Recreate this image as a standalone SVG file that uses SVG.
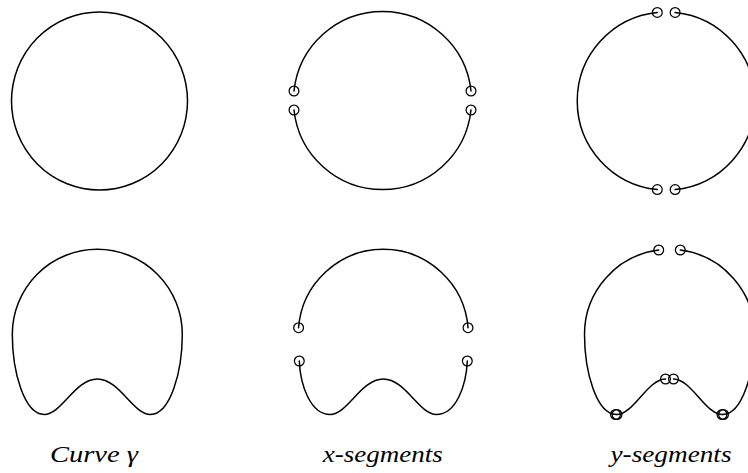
<svg xmlns="http://www.w3.org/2000/svg" width="748" height="473" viewBox="0 0 748 473">
  <style>
    .curve { fill: none; stroke: #000; stroke-width: 1.5; stroke-linecap: round; }
    .pt { fill: none; stroke: #000; stroke-width: 1.25; }
    .lbl { font-family: "Liberation Serif", "Times New Roman", serif; font-style: italic; font-size: 23px; fill: #000; }
  </style>
  <rect width="748" height="473" fill="#fff"/>

  <g id="circle-curve">
    <ellipse class="curve" cx="99.5" cy="101" rx="88" ry="89"/>
  </g>

  <g id="circle-x-segments">
    <path class="curve" d="M294,91 A89,89 0 0 1 471,91"/>
    <path class="curve" d="M294,110 A89,89 0 0 0 471,110"/>
    <circle class="pt" cx="294" cy="91" r="4.9"/>
    <circle class="pt" cx="294" cy="110" r="4.9"/>
    <circle class="pt" cx="471" cy="91" r="4.9"/>
    <circle class="pt" cx="471" cy="110" r="4.9"/>
  </g>

  <g id="circle-y-segments">
    <path class="curve" d="M657.3,12.45 A89,89 0 0 0 657.3,189.55"/>
    <path class="curve" d="M675.1,12.45 A89,89 0 0 1 675.1,189.55"/>
    <circle class="pt" cx="657.3" cy="12.45" r="4.9"/>
    <circle class="pt" cx="675.1" cy="12.45" r="4.9"/>
    <circle class="pt" cx="657.3" cy="189.55" r="4.9"/>
    <circle class="pt" cx="675.1" cy="189.55" r="4.9"/>
  </g>

  <g id="gamma-curve" transform="translate(97.3,0)">
    <path class="curve" d="M0,249.3 A85,85 0 0 0 -85,334.3 C-85,372 -73,414.5 -53,414.5 C-36,414.5 -22,379 0,379 C22,379 36,414.5 53,414.5 C73,414.5 85,372 85,334.3 A85,85 0 0 0 0,249.3 Z"/>
  </g>

  <g id="gamma-x-segments" transform="translate(383.3,0)">
    <path class="curve" d="M-84.74,327.7 A85,85 0 0 1 84.74,327.7"/>
    <path class="curve" d="M-84,361 C-83,385 -73,414.5 -53,414.5 C-36,414.5 -22,379 0,379 C22,379 36,414.5 53,414.5 C73,414.5 83,385 84,361"/>
    <circle class="pt" cx="-84.7" cy="327.7" r="4.9"/>
    <circle class="pt" cx="84.7" cy="327.7" r="4.9"/>
    <circle class="pt" cx="-84" cy="361" r="4.9"/>
    <circle class="pt" cx="84" cy="361" r="4.9"/>
  </g>

  <g id="gamma-y-segments" transform="translate(669.5,0)">
    <path class="curve" d="M-10.8,250 A85,85 0 0 0 -85,334.3 C-85,372 -73,414.5 -53,414.5"/>
    <path class="curve" d="M-53,414.5 C-36,414.5 -22,379.2 -4,379"/>
    <path class="curve" d="M4,379 C22,379.2 36,414.5 53,414.5"/>
    <path class="curve" d="M53,414.5 C73,414.5 85,372 85,334.3 A85,85 0 0 0 10.8,250"/>
    <circle class="pt" cx="-10.8" cy="250" r="4.9"/>
    <circle class="pt" cx="10.8" cy="250" r="4.9"/>
    <circle class="pt" cx="-4" cy="379" r="4.9"/>
    <circle class="pt" cx="4" cy="379" r="4.9"/>
    <circle class="pt" cx="-54" cy="414.5" r="4.9"/>
    <circle class="pt" cx="-52.5" cy="414.5" r="4.9"/>
    <circle class="pt" cx="52.5" cy="414.5" r="4.9"/>
    <circle class="pt" cx="54" cy="414.5" r="4.9"/>
  </g>

  <g id="labels">
    <text class="lbl" x="50" y="462" textLength="88" lengthAdjust="spacingAndGlyphs">Curve γ</text>
    <text class="lbl" x="322.7" y="462" textLength="120" lengthAdjust="spacingAndGlyphs">x-segments</text>
    <text class="lbl" x="610.5" y="462" textLength="121" lengthAdjust="spacingAndGlyphs">y-segments</text>
  </g>
</svg>
